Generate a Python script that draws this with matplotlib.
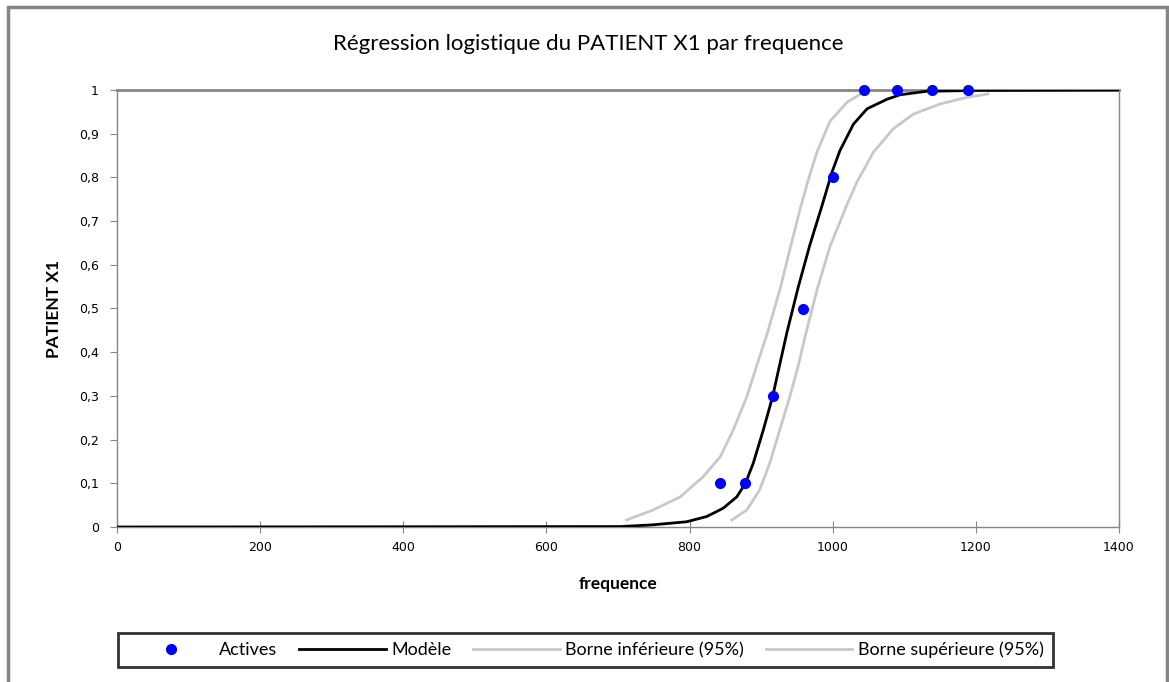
import matplotlib
matplotlib.use("Agg")
from matplotlib import pyplot as plt
from matplotlib.ticker import FuncFormatter, MultipleLocator
from matplotlib.patches import Rectangle

# observed points (Actives)
act_x = [842, 878, 916, 958, 1000, 1044, 1090, 1139, 1189]
act_y = [0.1, 0.1, 0.3, 0.5, 0.8, 1, 1, 1, 1]

# fitted model
mod_x = [0, 703, 749, 796, 824, 847, 866, 878, 889, 903, 916, 926, 936, 952,
         968, 985, 999, 1010, 1029, 1048, 1076, 1094, 1131, 1200, 1400]
mod_y = [0, 0.001, 0.005, 0.012, 0.024, 0.043, 0.069, 0.1, 0.146, 0.222,
         0.298, 0.372, 0.445, 0.55, 0.645, 0.735, 0.812, 0.861, 0.922, 0.957,
         0.979, 0.989, 0.997, 0.999, 1.0]

# 95% bounds
inf_x = [712, 749, 787, 819, 843, 861, 880, 894, 908, 926, 940, 954, 966, 978,
         996, 1020, 1043]
inf_y = [0.016, 0.039, 0.069, 0.115, 0.161, 0.222, 0.298, 0.37, 0.44, 0.542,
         0.634, 0.725, 0.795, 0.858, 0.928, 0.972, 0.995]
sup_x = [859, 880, 898, 912, 926, 940, 952, 962, 978, 996, 1020, 1034, 1057,
         1085, 1113, 1150, 1187, 1217]
sup_y = [0.016, 0.039, 0.085, 0.146, 0.222, 0.298, 0.37, 0.44, 0.542, 0.641,
         0.738, 0.79, 0.858, 0.912, 0.945, 0.968, 0.983, 0.991]

fig = plt.figure(figsize=(11.69, 6.82), dpi=100)
ax = fig.add_axes([117/1169, 155/682, 1002/1169, 437/682])

gray = '#C8C8C8'
ax.plot(inf_x, inf_y, color=gray, lw=2, label='Borne inférieure (95%)', zorder=2)
ax.plot(sup_x, sup_y, color=gray, lw=2, label='Borne supérieure (95%)', zorder=2)
ax.plot(mod_x, mod_y, color='black', lw=2, label='Modèle', zorder=3)
ax.plot(act_x, act_y, 'o', color='#0000FF', ms=7, label='Actives', zorder=4,
        clip_on=False)

ax.set_xlim(0, 1400)
ax.set_ylim(0, 1)
ax.xaxis.set_major_locator(MultipleLocator(200))
ax.yaxis.set_major_locator(MultipleLocator(0.1))

def yfmt(v, pos):
    if abs(v) < 1e-9:
        return '0'
    if abs(v - 1) < 1e-9:
        return '1'
    return ('%.1f' % v).replace('.', ',')

ax.yaxis.set_major_formatter(FuncFormatter(yfmt))
ax.tick_params(axis='x', direction='inout', length=8, color='#868686',
               labelsize=9, pad=6)
ax.tick_params(axis='y', direction='out', length=5, color='#868686',
               labelsize=9, pad=8)
for s in ax.spines.values():
    s.set_color('#868686')
    s.set_linewidth(1)
ax.spines['top'].set_linewidth(2)

fig.text(588/1169, 1 - 44/682, 'Régression logistique du PATIENT X1 par frequence',
         fontfamily='Lato', fontsize=16, ha='center', va='center')
ax.set_xlabel('frequence', fontfamily='Lato', fontweight='bold', fontsize=12.5,
              labelpad=16)
ax.set_ylabel('PATIENT X1', fontfamily='Lato', fontweight='bold', fontsize=12.5,
              labelpad=12)

h, l = ax.get_legend_handles_labels()
order = [3, 2, 0, 1]
leg = fig.legend([h[i] for i in order], [l[i] for i in order], ncol=4,
                 loc='center', bbox_to_anchor=(585.5/1169, 1 - 650/682),
                 prop={'family': 'Lato', 'size': 13}, fancybox=False,
                 edgecolor='black', handlelength=4.8, columnspacing=1.2,
                 borderpad=0.5, handletextpad=0.3, borderaxespad=0)
leg.get_frame().set_linewidth(2)

fig.patches.append(Rectangle((8/1169, -0.01), 1159/1169, 1.01 - 7/682,
                             transform=fig.transFigure, fill=False,
                             edgecolor='#868686', lw=2.5))

plt.savefig('out.png', dpi=100)
